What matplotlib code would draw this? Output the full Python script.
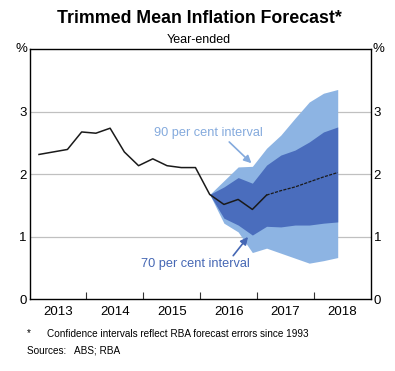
import matplotlib as mpl
import matplotlib.pyplot as plt

mpl.rcParams.update(
    {
        "font.family": ["Liberation Sans", "DejaVu Sans"],
        "axes.linewidth": 1.0,
    }
)

# quarterly observations, plotted at quarter-end month
hist_dates = ["2013-03", "2013-06", "2013-09", "2013-12", "2014-03", "2014-06",
              "2014-09", "2014-12", "2015-03", "2015-06", "2015-09", "2015-12",
              "2016-03", "2016-06", "2016-09", "2016-12", "2017-03"]
hist_values = [2.32, 2.36, 2.40, 2.68, 2.66, 2.74, 2.36, 2.14, 2.25, 2.14, 2.11, 2.11,
               1.68, 1.52, 1.60, 1.44, 1.67]

fcst_dates = ["2017-03", "2017-06", "2017-09", "2017-12", "2018-03", "2018-06"]
fcst_values = [1.67, 1.74, 1.80, 1.88, 1.96, 2.03]

band_dates = ["2016-03", "2016-06", "2016-09", "2016-12", "2017-03", "2017-06",
              "2017-09", "2017-12", "2018-03", "2018-06"]
p90_upper = [1.68, 1.90, 2.12, 2.13, 2.42, 2.63, 2.90, 3.16, 3.30, 3.36]
p70_upper = [1.68, 1.80, 1.95, 1.86, 2.15, 2.31, 2.39, 2.52, 2.68, 2.76]
p70_lower = [1.68, 1.30, 1.19, 1.03, 1.17, 1.16, 1.19, 1.19, 1.22, 1.24]
p90_lower = [1.68, 1.22, 1.08, 0.75, 0.82, 0.74, 0.66, 0.58, 0.62, 0.67]

years = [2013, 2014, 2015, 2016, 2017, 2018]
y_ticks = [0, 1, 2, 3]

LIGHT = "#8db4e3"
DARK = "#4a6dbd"
LIGHT_TXT = "#84aadd"
DARK_TXT = "#4567b4"


def to_year(s):
    y, m = s.split("-")
    return int(y) + (int(m) - 1) / 12


hx = [to_year(d) for d in hist_dates]
fx = [to_year(d) for d in fcst_dates]
bx = [to_year(d) for d in band_dates]

fig = plt.figure(figsize=(3.95, 3.71), dpi=100)
ax = fig.add_axes([0.0747, 0.193, 0.8643, 0.6736])

ax.fill_between(bx, p90_lower, p90_upper, color=LIGHT, linewidth=0, zorder=2)
ax.fill_between(bx, p70_lower, p70_upper, color=DARK, linewidth=0, zorder=3)
ax.plot(hx, hist_values, color="#1a1a1a", linewidth=1.1, zorder=5)
ax.plot(fx, fcst_values, color="#1a1a1a", linewidth=0.9, linestyle=(0, (2.5, 1)), zorder=5)

ax.set_xlim(2013, 2019)
ax.set_ylim(0, 4)
for y in y_ticks[1:]:
    ax.axhline(y, color="#c0c0c0", linewidth=0.9, zorder=1)

# y labels on both sides, "%" on top
ax.set_yticks(y_ticks)
ax.set_yticklabels([str(v) for v in y_ticks])
ax.tick_params(axis="y", length=0, pad=2, labelsize=9.5, left=False, right=False,
               labelleft=True, labelright=True)
ax.text(-0.005, 1.0, "%", transform=ax.transAxes, ha="right", va="center", fontsize=9.5)
ax.text(1.005, 1.0, "%", transform=ax.transAxes, ha="left", va="center", fontsize=9.5)

# year boundary ticks inside, labels centred on each year
ax.set_xticks([y + 1 for y in years[:-1]])
ax.set_xticks([y + 0.5 for y in years], minor=True)
ax.set_xticklabels([])
ax.set_xticklabels([str(y) for y in years], minor=True)
ax.tick_params(axis="x", which="major", direction="in", length=5, width=0.8, color="#333333")
ax.tick_params(axis="x", which="minor", length=0, pad=5, labelsize=9.5)

arrow_kw = dict(arrowstyle="-|>", lw=1.2, mutation_scale=11, shrinkA=0, shrinkB=0)
ax.text(2015.19, 2.66, "90 per cent interval", color=LIGHT_TXT, fontsize=9.2,
        va="center", ha="left", zorder=6)
ax.annotate("", xy=(2016.90, 2.18), xytext=(2016.51, 2.52),
            arrowprops=dict(color=LIGHT_TXT, **arrow_kw), zorder=6)
ax.text(2014.96, 0.565, "70 per cent interval", color=DARK_TXT, fontsize=9.2,
        va="center", ha="left", zorder=6)
ax.annotate("", xy=(2016.84, 1.0), xytext=(2016.58, 0.70),
            arrowprops=dict(color=DARK_TXT, **arrow_kw), zorder=6)

fig.text(0.505, 0.951, "Trimmed Mean Inflation Forecast*", ha="center", va="center",
         fontsize=12.8, fontweight="bold")
fig.text(0.503, 0.892, "Year-ended", ha="center", va="center", fontsize=9)
fig.text(0.068, 0.101, "*", ha="left", va="center", fontsize=7.2)
fig.text(0.12, 0.101, "Confidence intervals reflect RBA forecast errors since 1993",
         ha="left", va="center", fontsize=7.2)
fig.text(0.068, 0.055, "Sources:   ABS; RBA", ha="left", va="center", fontsize=7.2)

fig.savefig("out.png", dpi=100, facecolor="white")
